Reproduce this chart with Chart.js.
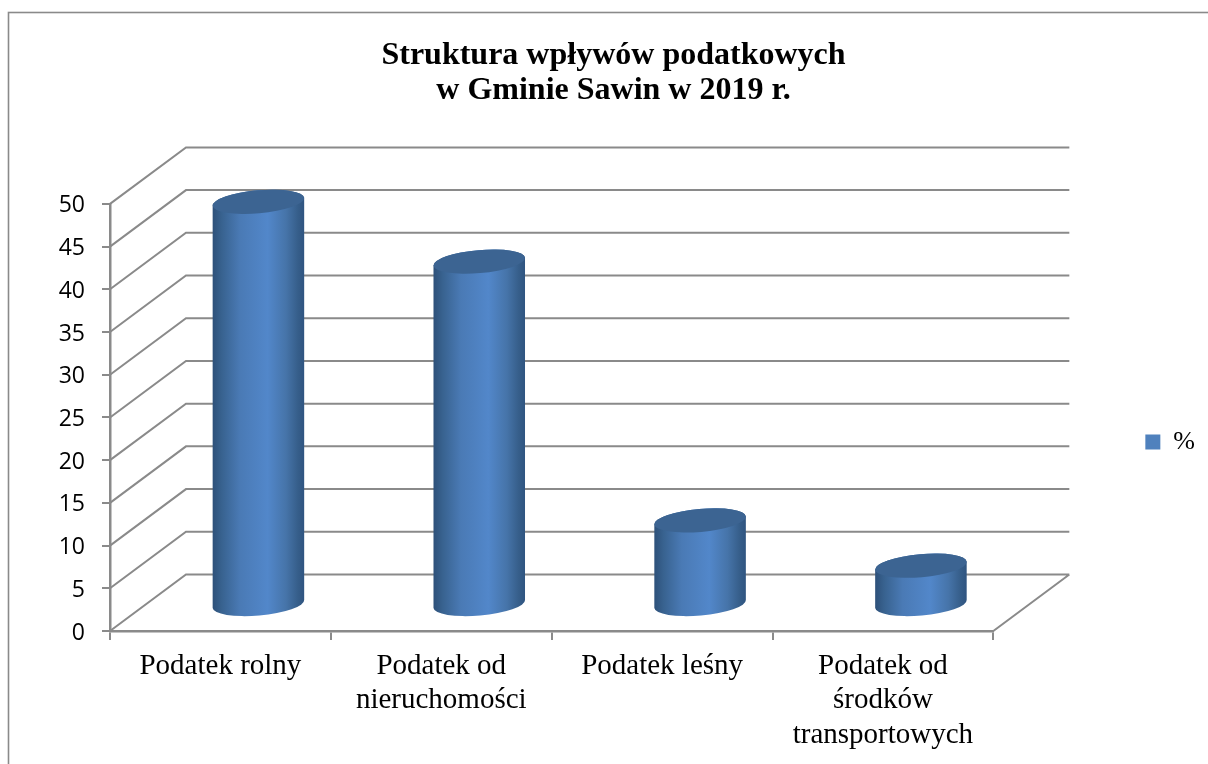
<!DOCTYPE html>
<html lang="pl">
<head>
<meta charset="utf-8">
<style>html,body{margin:0;padding:0;background:#fff}canvas{display:block}</style>
<script src="https://cdn.jsdelivr.net/npm/chart.js@4/dist/chart.umd.js"></script>
</head>
<body>
<canvas id="c" width="1208" height="764"></canvas>
<script>
const categories = [["Podatek rolny"], ["Podatek od", "nieruchomości"], ["Podatek leśny"], ["Podatek od", "środków", "transportowych"]];
const percentValues = [47.2, 40.2, 9.9, 4.6];
const seriesName = "%";
const titleLines = ["Struktura wpływów podatkowych", "w Gminie Sawin w 2019 r."];

const GREY = "#8a8a8a", SERIF = "'Liberation Serif', serif";
const DX = 76, DY = 56.5, LIFT = 26, TILT = -5 * Math.PI / 180, RY = 11.5;

const scene = {
  id: "scene",
  afterLayout(chart) {
    const l = chart.legend;
    l.top += 60; l.bottom += 60;
  },
  beforeDraw(chart) {
    const c = chart.ctx;
    c.save();
    c.fillStyle = "#fff"; c.fillRect(0, 0, chart.width, chart.height);
    c.strokeStyle = GREY; c.lineWidth = 1.6;
    c.strokeRect(8.5, 12.5, 1400, 1400);
    c.restore();
  },
  beforeDatasetsDraw(chart) {
    const c = chart.ctx, y = chart.scales.y, x = chart.scales.x;
    c.save();
    c.strokeStyle = GREY; c.lineWidth = 2;
    c.beginPath();
    y.ticks.forEach(t => {
      const p = y.getPixelForValue(t.value);
      c.moveTo(x.left, p);
      c.lineTo(x.left + DX, p - DY);
      c.lineTo(x.right + DX, p - DY);
    });
    const b = y.getPixelForValue(0);
    c.moveTo(x.right, b);
    c.lineTo(x.right + DX, b - DY);
    c.stroke();
    c.restore();
  },
  beforeDatasetDraw(chart, args) {
    const c = chart.ctx;
    chart.getDatasetMeta(args.index).data.forEach(el => {
      const rx = el.width / 2, cx = el.x + DX / 2;
      const topY = el.y - LIFT, botY = el.base - LIFT;
      const g = c.createLinearGradient(cx - rx, 0, cx + rx, 0);
      g.addColorStop(0, "#2d5079");
      g.addColorStop(0.1, "#38628f");
      g.addColorStop(0.3, "#4a7ab5");
      g.addColorStop(0.6, "#5287ca");
      g.addColorStop(0.8, "#4674a9");
      g.addColorStop(0.93, "#365e8a");
      g.addColorStop(1, "#2f5480");
      c.save();
      c.beginPath();
      c.ellipse(cx, botY, rx, RY, TILT, 0, Math.PI);
      c.ellipse(cx, topY, rx, RY, TILT, Math.PI, 2 * Math.PI);
      c.closePath();
      c.fillStyle = g; c.fill();
      c.beginPath();
      c.ellipse(cx, topY, rx, RY, TILT, 0, 2 * Math.PI);
      c.fillStyle = "#3c6492"; c.fill();
      c.restore();
    });
    return false;
  }
};

new Chart(document.getElementById("c"), {
  type: "bar",
  data: {
    labels: categories,
    datasets: [{ label: seriesName, data: percentValues, backgroundColor: "#4F81BD", borderWidth: 0,
                 categoryPercentage: 0.416, barPercentage: 1 }]
  },
  plugins: [scene],
  options: {
    responsive: false, animation: false,
    layout: { autoPadding: false, padding: { left: 22, right: 3, top: 0, bottom: 0 } },
    plugins: {
      tooltip: { enabled: false },
      title: { display: true, text: titleLines, color: "#000",
               font: { family: SERIF, size: 32, weight: "bold", lineHeight: 1.1 },
               padding: { top: 38, bottom: 10 } },
      legend: { position: "right", align: "center",
                labels: { boxWidth: 15, boxHeight: 15, color: "#000", padding: 9,
                          font: { family: SERIF, size: 26 } } }
    },
    scales: {
      x: { offset: true,
           grid: { drawOnChartArea: false, color: GREY, lineWidth: 2, tickLength: 9 },
           border: { color: GREY, width: 2.5 },
           ticks: { color: "#000", padding: 9, maxRotation: 0, autoSkip: false,
                    font: { family: SERIF, size: 29, lineHeight: 1.19 } },
           afterFit(s) { s.height = 133; } },
      y: { min: 0, max: 50,
           grid: { drawOnChartArea: false, color: GREY, lineWidth: 2, tickLength: 8 },
           border: { color: GREY, width: 2.5 },
           ticks: { stepSize: 5, color: "#000", padding: 17, labelOffset: 2, font: { family: "Open Sans", size: 23 } },
           afterFit(s) { s.width = 88; } },
      xTop: { type: "linear", position: "top", grid: { display: false }, border: { display: false },
              ticks: { display: false }, afterFit(s) { s.height = 85.5; } },
      yRight: { type: "linear", position: "right", grid: { display: false }, border: { display: false },
                ticks: { display: false }, afterFit(s) { s.width = 143; } }
    }
  }
});
</script>
</body>
</html>
